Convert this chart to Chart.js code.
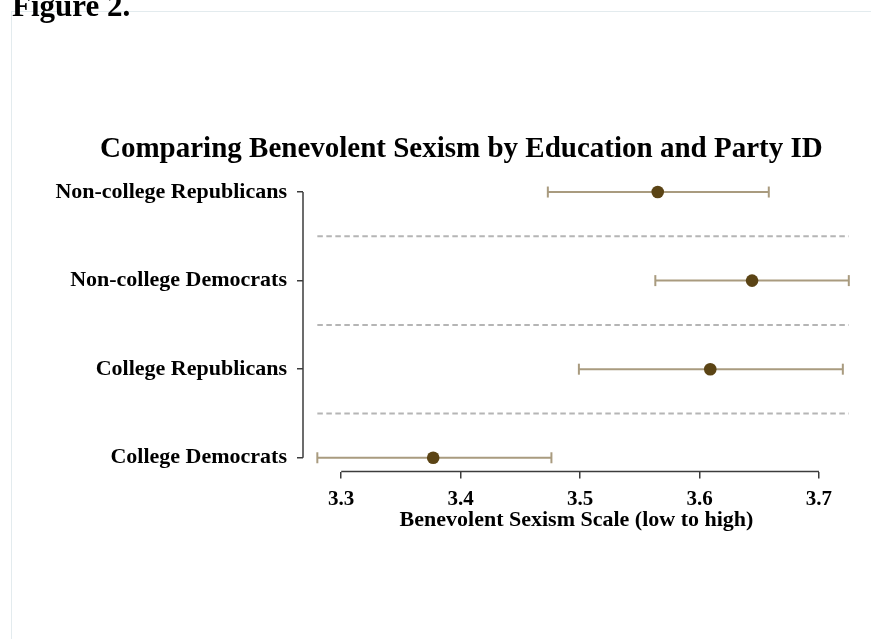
<!DOCTYPE html>
<html>
<head>
<meta charset="utf-8">
<script src="https://cdn.jsdelivr.net/npm/chart.js@4/dist/chart.umd.min.js"></script>
<style>
  body { margin: 0; background: #fff; }
  #fig { position: absolute; left: 12px; top: -12px; z-index: 2; font: bold 31px "Liberation Serif", "Times New Roman", serif; color: #000; }
  #frame { position: absolute; left: 11px; top: 11px; width: 900px; height: 700px; border: 1.5px solid #e3ebee; }
  #wrap { position: absolute; left: 0; top: 0; width: 871px; height: 639px; }
</style>
</head>
<body>
<div id="frame"></div>
<div id="fig">Figure 2.</div>
<div id="wrap"><canvas id="chart"></canvas></div>
<script>
const groups = ['Non-college Republicans', 'Non-college Democrats', 'College Republicans', 'College Democrats'];
const means = [3.565, 3.644, 3.609, 3.377];
const lower = [3.473, 3.563, 3.499, 3.280];
const upper = [3.658, 3.725, 3.720, 3.476];
const xTicks = [3.3, 3.4, 3.5, 3.6, 3.7];
const chartTitle = 'Comparing Benevolent Sexism by Education and Party ID';

const serif = '"Liberation Serif", "Times New Roman", serif';
const axisColor = '#3c3c3c';

// one line dataset per row = the confidence interval with end caps
const ciSets = groups.map((g, i) => ({
  type: 'line',
  data: [{ x: lower[i], y: i + 1 }, { x: upper[i], y: i + 1 }],
  borderColor: '#a99b7f',
  borderWidth: 2,
  pointStyle: 'line',
  pointRotation: 90,
  pointRadius: 5.5,
  pointBorderColor: '#a99b7f',
  pointBorderWidth: 2,
  clip: false,
  order: 1,
}));

const pointSet = {
  type: 'scatter',
  data: means.map((m, i) => ({ x: m, y: i + 1 })),
  backgroundColor: '#5b4415',
  borderColor: '#5b4415',
  pointRadius: 6.3,
  borderWidth: 0,
  clip: false,
  order: 0,
};

// dashed separators between rows, partial axis lines and the title
const decor = {
  id: 'decor',
  beforeDatasetsDraw(chart) {
    const { ctx, scales: { x, y } } = chart;
    const x0 = x.getPixelForValue(Math.min(...lower));
    const x1 = x.getPixelForValue(Math.max(...upper));
    ctx.save();
    ctx.strokeStyle = '#b5b5b5';
    ctx.lineWidth = 2;
    ctx.setLineDash([5.5, 3.5]);
    for (let i = 1; i < groups.length; i++) {
      const py = y.getPixelForValue(i + 0.5);
      ctx.beginPath();
      ctx.moveTo(x0, py);
      ctx.lineTo(x1, py);
      ctx.stroke();
    }
    ctx.restore();
  },
  afterDraw(chart) {
    const { ctx, chartArea, scales: { x, y } } = chart;
    ctx.save();
    ctx.strokeStyle = axisColor;
    ctx.lineWidth = 1.5;
    ctx.beginPath();
    ctx.moveTo(x.getPixelForValue(xTicks[0]), chartArea.bottom);
    ctx.lineTo(x.getPixelForValue(xTicks[xTicks.length - 1]), chartArea.bottom);
    ctx.moveTo(chartArea.left, y.getPixelForValue(1));
    ctx.lineTo(chartArea.left, y.getPixelForValue(groups.length));
    ctx.stroke();

    ctx.fillStyle = '#000';
    ctx.font = 'bold 29px ' + serif;
    ctx.textAlign = 'left';
    ctx.textBaseline = 'alphabetic';
    ctx.fillText(chartTitle, 100, 157);
    ctx.restore();
  },
};

new Chart(document.getElementById('chart'), {
  data: { datasets: [pointSet, ...ciSets] },
  plugins: [decor],
  options: {
    responsive: true,
    maintainAspectRatio: false,
    animation: false,
    layout: { padding: { left: 0, right: 21, top: 178.3, bottom: 97.5 } },
    plugins: {
      legend: { display: false },
      tooltip: { enabled: false },
    },
    scales: {
      x: {
        type: 'linear',
        min: 3.268,
        max: 3.726,
        afterFit(s) { s.height = 70; },
        afterBuildTicks(s) { s.ticks = xTicks.map(v => ({ value: v })); },
        grid: { drawOnChartArea: false, drawTicks: true, tickLength: 7, color: axisColor, lineWidth: 1.5 },
        border: { display: false },
        ticks: {
          padding: 8,
          color: '#000',
          font: { family: serif, size: 21, weight: 'bold' },
          callback: v => v.toFixed(1),
        },
        title: {
          display: true,
          text: 'Benevolent Sexism Scale (low to high)',
          color: '#000',
          font: { family: serif, size: 22, weight: 'bold' },
          padding: { top: 0, bottom: 8 },
        },
      },
      y: {
        type: 'linear',
        reverse: true,
        min: 0.845,
        max: 4.155,
        afterFit(s) { s.width = 303; },
        afterBuildTicks(s) { s.ticks = groups.map((g, i) => ({ value: i + 1 })); },
        grid: { drawOnChartArea: false, drawTicks: true, tickLength: 6, color: axisColor, lineWidth: 1.5 },
        border: { display: false },
        ticks: {
          padding: 10,
          color: '#000',
          font: { family: serif, size: 22, weight: 'bold' },
          callback: v => groups[v - 1],
        },
      },
    },
  },
});
</script>
</body>
</html>
